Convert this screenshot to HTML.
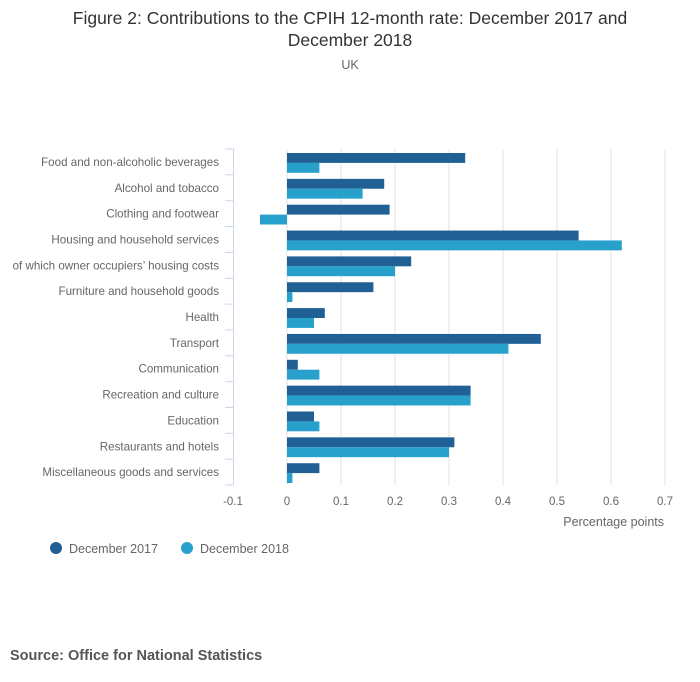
<!DOCTYPE html>
<html><head><meta charset="utf-8">
<style>
html,body{margin:0;padding:0;background:#fff;}
svg{display:block;font-family:"Liberation Sans",sans-serif;}
</style></head>
<body>
<svg id="chart" width="700" height="682" viewBox="0 0 700 682">
  <text x="350" y="24" text-anchor="middle" font-size="17.5" fill="#333">Figure 2: Contributions to the CPIH 12-month rate: December 2017 and</text>
  <text x="350" y="46" text-anchor="middle" font-size="17.5" fill="#333">December 2018</text>
  <text x="350" y="69" text-anchor="middle" font-size="12.5" fill="#666">UK</text>
  <g id="grid"></g>
  <g id="bars"></g>
  <g id="yaxis"></g>
  <g id="xaxis"></g>
  <text x="664" y="526" text-anchor="end" font-size="12.5" fill="#666">Percentage points</text>
  <g>
    <g>
      <circle cx="56" cy="548" r="6" fill="#206095"></circle>
      <text x="69" y="553" font-size="12.5" fill="#666">December 2017</text>
    </g>
    <g>
      <circle cx="187" cy="548" r="6" fill="#27a0cc"></circle>
      <text x="200" y="553" font-size="12.5" fill="#666">December 2018</text>
    </g>
  </g>
  <text x="10" y="660" font-size="14.5" font-weight="bold" fill="#555">Source: Office for National Statistics</text>
</svg>
<script>
const categories = ["Food and non-alcoholic beverages","Alcohol and tobacco","Clothing and footwear","Housing and household services","of which owner occupiers’ housing costs","Furniture and household goods","Health","Transport","Communication","Recreation and culture","Education","Restaurants and hotels","Miscellaneous goods and services"];
const dec2017 = [0.33,0.18,0.19,0.54,0.23,0.16,0.07,0.47,0.02,0.34,0.05,0.31,0.06];
const dec2018 = [0.06,0.14,-0.05,0.62,0.20,0.01,0.05,0.41,0.06,0.34,0.06,0.30,0.01];
const xTicks = [-0.1,0,0.1,0.2,0.3,0.4,0.5,0.6,0.7];
const xTickLabels = ["-0.1","0","0.1","0.2","0.3","0.4","0.5","0.6","0.7"];

const NS = "http://www.w3.org/2000/svg";
const plotTop = 149, rowH = 25.85, plotBottom = plotTop + rowH * categories.length;
const x = v => 287 + v * 540;
const y = i => plotTop + i * rowH;
function mk(tag, attrs, parent){const e=document.createElementNS(NS,tag);for(const k in attrs)e.setAttribute(k,attrs[k]);parent.appendChild(e);return e;}

const grid = document.getElementById('grid');
const xaxis = document.getElementById('xaxis');
xTicks.forEach((t,i)=>{
  if (t > -0.1) {
    const l = mk('line',{x1:x(t),x2:x(t),y1:plotTop,y2:plotBottom,stroke:'#e0e0e0','stroke-width':1},grid);
    
    
  }
  const tx = mk('text',{x:x(t),y:505,'text-anchor':'middle','font-size':11.5,fill:'#666'},xaxis);
  tx.textContent = xTickLabels[i];
  
  
});

const yaxis = document.getElementById('yaxis');
const ax = mk('line',{x1:233.5,x2:233.5,y1:plotTop,y2:plotBottom,stroke:'#ccd6eb','stroke-width':1},yaxis);


for (let i=0;i<=categories.length;i++){
  const tk = mk('line',{x1:225,x2:233.5,y1:y(i),y2:y(i),stroke:'#ccd6eb','stroke-width':1},yaxis);
  
  
}

const bars = document.getElementById('bars');
categories.forEach((c,i)=>{
  const lab = mk('text',{x:219,y:y(i)+rowH/2+4,'text-anchor':'end','font-size':11.6,fill:'#666'},yaxis);
  lab.textContent = c;
  
  
  const bh = 9.9, top = y(i)+4;
  [[dec2017[i],'#206095',top,'bar-december-2017'],[dec2018[i],'#27a0cc',top+bh,'bar-december-2018']].forEach(([v,col,by,nm])=>{
    const x0 = Math.min(x(0),x(v)), w = Math.abs(x(v)-x(0));
    const r = mk('rect',{x:x0,y:by,width:w,height:bh,fill:col},bars);
    
    
  });
});
</script>
</body></html>
